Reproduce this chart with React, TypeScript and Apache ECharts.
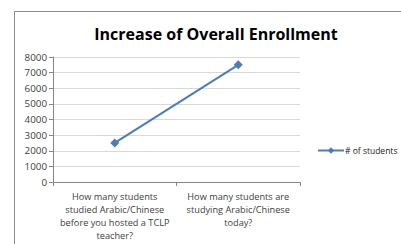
import React, { useEffect, useRef } from "react";
import * as echarts from "echarts";

const categories = [
  "How many students\nstudied Arabic/Chinese\nbefore you hosted a TCLP\nteacher?",
  "How many students are\nstudying Arabic/Chinese\ntoday?",
];
const students = [2500, 7500];
const seriesName = "# of students";
const title = "Increase of Overall Enrollment";

export default function App() {
  const ref = useRef<HTMLDivElement>(null);
  useEffect(() => {
    const chart = echarts.init(ref.current!, null, { renderer: "svg" });
    const font = "'Open Sans', 'Liberation Sans', sans-serif";
    chart.setOption({
      animation: false,
      backgroundColor: "#ffffff",
      title: {
        text: title,
        left: 211,
        textAlign: "center",
        top: 21,
        textStyle: { fontFamily: font, fontSize: 16, fontWeight: "bold", color: "#000000" },
      },
      graphic: [
        {
          type: "rect",
          shape: { x: 14.5, y: 11.5, width: 500, height: 400 },
          style: { fill: "none", stroke: "#8c8c8c", lineWidth: 1 },
          silent: true,
        },
      ],
      legend: {
        left: 312,
        top: 141,
        itemWidth: 26,
        itemHeight: 8,
        itemGap: 4,
        textStyle: { fontFamily: font, fontSize: 8.5, color: "#222222", padding: [0, 0, 0, -4] },
        data: [seriesName],
      },
      grid: { left: 53, right: 101, top: 57, bottom: 62, containLabel: false },
      xAxis: {
        type: "category",
        data: categories,
        boundaryGap: true,
        axisLine: { lineStyle: { color: "#868686" } },
        axisTick: { show: true, length: 4, lineStyle: { color: "#868686" } },
        axisLabel: {
          fontFamily: font,
          fontSize: 9.2,
          color: "#404040",
          lineHeight: 13,
          margin: 8,
          interval: 0,
          align: "center",
        },
        splitLine: { show: false },
      },
      yAxis: {
        type: "value",
        min: 0,
        max: 8000,
        interval: 1000,
        axisLine: { show: true, lineStyle: { color: "#868686" } },
        axisTick: { show: true, length: 4, lineStyle: { color: "#868686" } },
        axisLabel: {
          fontFamily: font,
          fontSize: 9.8,
          color: "#404040",
          margin: 6,
          formatter: (v: number) => String(v),
        },
        splitLine: { show: true, lineStyle: { color: "#d9d9d9", width: 1 } },
      },
      series: [
        {
          name: seriesName,
          type: "line",
          data: students,
          symbol: "diamond",
          symbolSize: 9,
          lineStyle: { color: "#4a7ebb", width: 2 },
          itemStyle: { color: "#4a7ebb" },
        },
      ],
    });
    return () => chart.dispose();
  }, []);
  return (
    <div
      ref={ref}
      style={{ position: "absolute", left: 0, top: 0, width: 401, height: 244 }}
    />
  );
}
